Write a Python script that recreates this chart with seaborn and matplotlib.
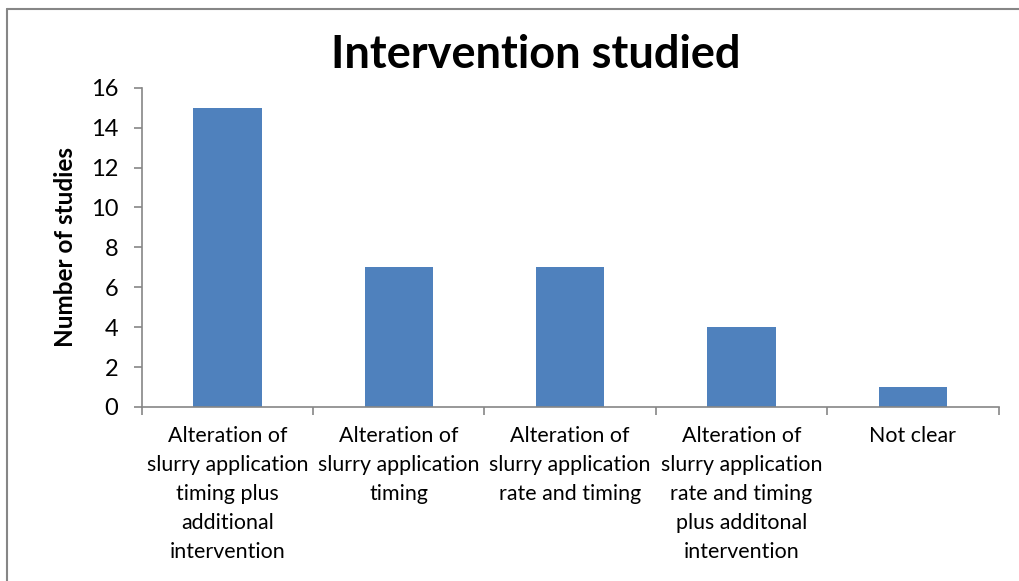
import numpy as np
import pandas as pd
import seaborn as sns
import matplotlib.pyplot as plt
from matplotlib.lines import Line2D

# datos del grafico
categorias = ["Alteration of\nslurry application\ntiming plus\nadditional\nintervention",
              "Alteration of\nslurry application\ntiming",
              "Alteration of\nslurry application\nrate and timing",
              "Alteration of\nslurry application\nrate and timing\nplus additonal\nintervention",
              "Not clear"]
estudios = [15, 7, 7, 4, 1]
yticks = [0, 2, 4, 6, 8, 10, 12, 14, 16]

df = pd.DataFrame({"Intervention": categorias, "Number": estudios})

sns.set_style("white")
plt.rcParams['font.family'] = ['Lato', 'DejaVu Sans']
plt.rcParams['text.color'] = 'black'
plt.rcParams['axes.labelcolor'] = 'black'
plt.rcParams['xtick.color'] = 'black'
plt.rcParams['ytick.color'] = 'black'

fig = plt.figure(figsize=(10.2, 5.81), dpi=100)
ax = fig.add_axes([0.139, 0.2995, 0.840, 0.5495])

sns.barplot(data=df, x="Intervention", y="Number", color="#4F81BD",
            width=0.4, saturation=1, edgecolor="#4F81BD", linewidth=0, ax=ax)

ax.set_ylim(0, 16)
ax.set_xlim(-0.5, 4.5)
ax.set_yticks(yticks)
ax.set_yticklabels([str(v) for v in yticks], fontsize=17)
ax.set_xticks(np.arange(len(categorias)))
ax.set_xticklabels(categorias, fontsize=15.4, linespacing=1.55)
ax.tick_params(axis='x', length=0, pad=14)
ax.tick_params(axis='y', length=6, width=1.2, color="#868686", left=True, pad=11)
ax.set_xticks(np.arange(-0.5, 5, 1), minor=True)
ax.tick_params(axis='x', which='minor', length=6, width=1.2, color="#868686", bottom=True)

for s in ["top", "right"]:
    ax.spines[s].set_visible(False)
for s in ["left", "bottom"]:
    ax.spines[s].set_color("#868686")
    ax.spines[s].set_linewidth(1.2)

ax.set_xlabel("")
ax.set_ylabel("Number of studies", fontsize=17.5, fontweight="bold", labelpad=10)
fig.text(0.525, 0.905, "Intervention studied", ha="center", va="center",
         fontsize=32.5, fontweight="bold")

# borde del grafico
fig.add_artist(Line2D([7/1020, 7/1020], [0, 1 - 9/581], color="#868686", lw=1.5))
fig.add_artist(Line2D([7/1020, 1], [1 - 9/581, 1 - 9/581], color="#868686", lw=1.5))

fig.savefig("out.png", dpi=100)
